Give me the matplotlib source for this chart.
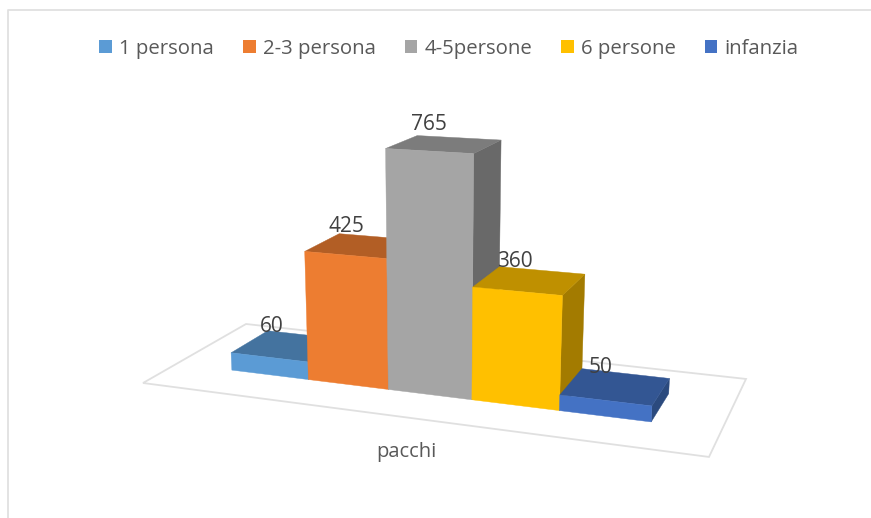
"""Pacchi per categoria, colonne 3D in prospettiva disegnate su assi 2D"""

import matplotlib
matplotlib.use("Agg")
import matplotlib.pyplot as plt
from matplotlib.patches import Patch, Polygon
import numpy as np

categories = ["1 persona", "2-3 persona", "4-5persone", "6 persone", "infanzia"]
values = [60, 425, 765, 360, 50]
axis_label = "pacchi"

front_colors = ["#5B9BD5", "#ED7D31", "#A5A5A5", "#FFC000", "#4472C4"]
top_colors = ["#44739F", "#B25E25", "#7C7C7C", "#BF9000", "#335693"]
side_colors = ["#3A6690", "#9C5220", "#696969", "#A37B00", "#2B4A7E"]

plt.rcParams["font.family"] = ["Open Sans", "DejaVu Sans"]

# projection: floor (u, v) in 0..1, height in data units
FLOOR = np.array([[464.6, 138.1, 143.0], [8.6, -12.8, 383.0], [-0.143, 0.1426, 1.0]])
VANISH = np.array([440.0, 5000.0, 1.0])
HEIGHT_K = -6.38e-5
BAR_U0, BAR_U1 = 0.1144, 0.8865
BAR_V0, BAR_V1 = 0.304, 0.68


def project(u, v, h=0.0):
    p = FLOOR @ np.array([u, v, 1.0]) + HEIGHT_K * h * VANISH
    return p[0] / p[2], p[1] / p[2]


fig = plt.figure(figsize=(8.71, 5.18), dpi=100)
ax = fig.add_axes([0, 0, 1, 1])
ax.set_xlim(0, 871)
ax.set_ylim(518, 0)
ax.axis("off")

# chart frame
ax.plot([7.5, 7.5, 871], [518, 9.5, 9.5], color="#E0E0E0", lw=1.3)

# floor
floor = [project(0, 0), project(1, 0), project(1, 1), project(0, 1)]
ax.add_patch(Polygon(floor, closed=True, fc="white", ec="#E0E0E0", lw=1.3))

edges = np.linspace(BAR_U0, BAR_U1, len(values) + 1)
for i, val in enumerate(values):
    u0, u1 = edges[i], edges[i + 1]
    top = [project(u0, BAR_V0, val), project(u1, BAR_V0, val),
           project(u1, BAR_V1, val), project(u0, BAR_V1, val)]
    side = [project(u1, BAR_V0), project(u1, BAR_V1),
            project(u1, BAR_V1, val), project(u1, BAR_V0, val)]
    front = [project(u0, BAR_V0), project(u1, BAR_V0),
             project(u1, BAR_V0, val), project(u0, BAR_V0, val)]
    for pts, col in ((side, side_colors[i]), (top, top_colors[i]), (front, front_colors[i])):
        ax.add_patch(Polygon(pts, closed=True, fc=col, ec=col, lw=0.3))

# data labels sit above the middle of each top face
for i, val in enumerate(values):
    x, y = project((edges[i] + edges[i + 1]) / 2, (BAR_V0 + BAR_V1) / 2, val)
    ax.annotate(str(val), (x, y), xytext=(-11, 14), textcoords="offset points",
                ha="center", va="center", fontsize=15, color="#404040", zorder=10)

ax.text(406, 452, axis_label, ha="center", va="center", fontsize=14.5, color="#595959")

handles = [Patch(fc=c, ec="none") for c in front_colors]
ax.legend(handles, categories, loc="center", bbox_to_anchor=(449 / 871, 1 - 49 / 518), ncol=5,
          frameon=False, fontsize=14.7, labelcolor="#595959", handlelength=0.62, handleheight=0.62,
          handletextpad=0.35, columnspacing=1.42)

fig.savefig("out.png", dpi=100)
